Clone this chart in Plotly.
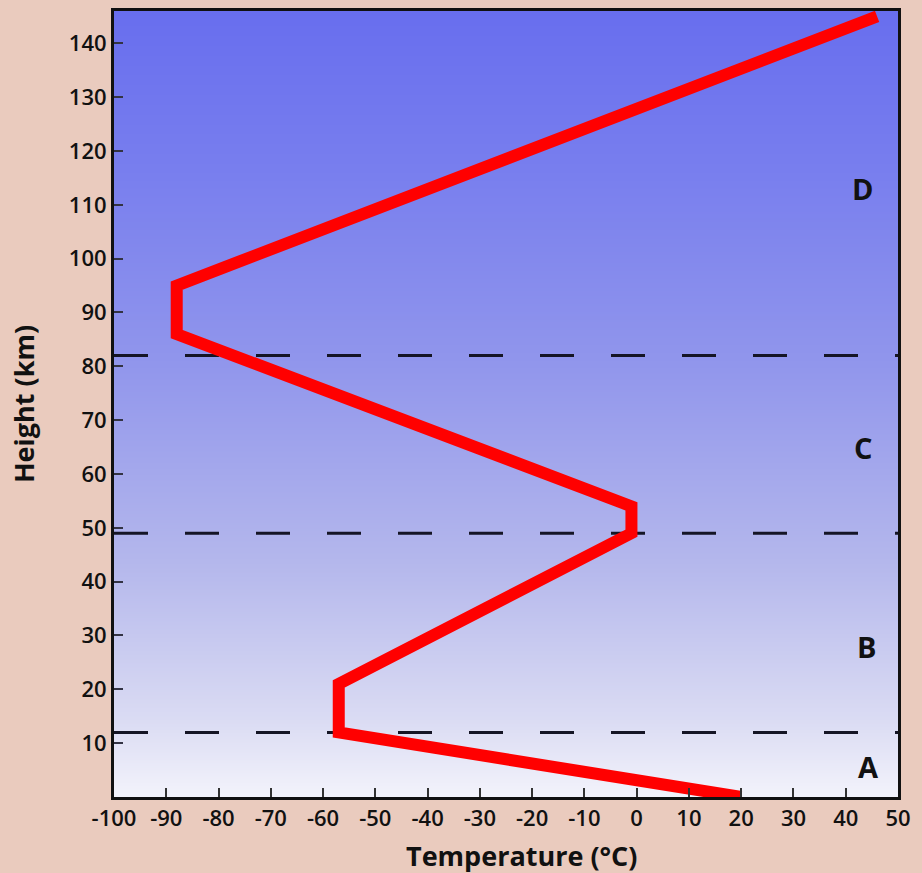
import plotly.graph_objects as go

# temperature profile of the atmosphere
temp = [20, -57, -57, -1, -1, -88, -88, 46]
height = [0, 12, 21, 49, 54, 86, 95, 145]

# layer boundaries (dashed lines) and layer letters
dividers = [12, 49, 82]
layer_names = ["A", "B", "C", "D"]
layer_x = [44.4, 44, 43.3, 43.3]
layer_y = [5.7, 28, 65, 113]

xticks = list(range(-100, 51, 10))
yticks = list(range(10, 141, 10))

FONT = "Open Sans"

fig = go.Figure()

# background gradient of the plot area
grad_y = [0, 20, 40, 60, 80, 100, 120, 146]
grad_z = [[v, v] for v in grad_y]
fig.add_trace(go.Heatmap(
    x=[-100, 50], y=grad_y, z=grad_z, zsmooth="best", showscale=False, hoverinfo="skip",
    colorscale=[[0, "rgb(243,243,251)"], [0.1, "rgb(218,219,243)"], [0.3, "rgb(180,183,236)"],
                [0.55, "rgb(145,150,236)"], [0.8, "rgb(120,126,238)"], [1, "rgb(104,110,238)"]]))

for d in dividers:
    fig.add_trace(go.Scatter(x=[-100, 50], y=[d, d], mode="lines", showlegend=False,
                             line=dict(color="#151525", width=3, dash="34px,37px"), hoverinfo="skip"))

fig.add_trace(go.Scatter(x=temp, y=height, mode="lines", showlegend=False,
                         line=dict(color="#ff0000", width=12)))

for name, lx, ly in zip(layer_names, layer_x, layer_y):
    fig.add_annotation(x=lx, y=ly, text=name, showarrow=False,
                       font=dict(family=FONT, size=29, color="#111", weight=700))

fig.add_annotation(xref="paper", yref="paper", x=0.52, y=-0.048, yanchor="top", showarrow=False,
                   text="Temperature (°C)", font=dict(family=FONT, size=27, color="#111", weight=700))
fig.add_annotation(xref="paper", yref="paper", x=-0.116, xanchor="center", y=0.5, textangle=-90,
                   showarrow=False, text="Height (km)",
                   font=dict(family=FONT, size=27, color="#111", weight=700))

tickfont = dict(family=FONT, size=22, color="#111", weight=600)
fig.update_xaxes(range=[-100, 50], tickvals=xticks, ticktext=[str(v) for v in xticks],
                 ticks="inside", ticklen=9, tickwidth=1.5, tickcolor="#333", showgrid=False,
                 zeroline=False, showline=True, linewidth=3, linecolor="#111", mirror=True,
                 tickfont=tickfont)
fig.update_yaxes(range=[0, 146], tickvals=yticks, ticktext=[str(v) for v in yticks],
                 ticks="inside", ticklen=9, tickwidth=1.5, tickcolor="#334", showgrid=False,
                 zeroline=False, showline=True, linewidth=3, linecolor="#111", mirror=True,
                 tickfont=tickfont)

fig.update_layout(width=922, height=873, margin=dict(l=114, r=24, t=8, b=76),
                  paper_bgcolor="#eacbbe", plot_bgcolor="#eef0fb", showlegend=False)

fig.write_html("out.html", config={"displayModeBar": False},
               post_script="document.body.style.margin='0';"
               "document.body.style.background='#eacbbe';")
